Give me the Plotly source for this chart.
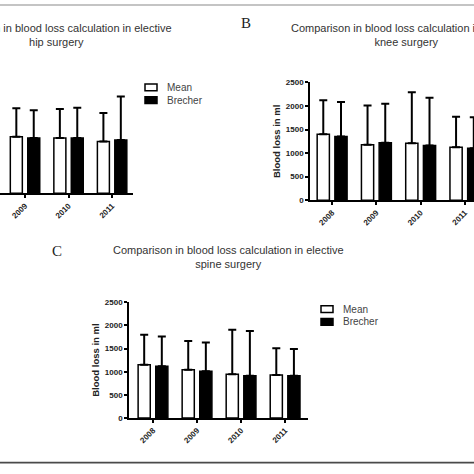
import plotly.graph_objects as go

W = H = 474

# ---------------- data ----------------
series_names = ["Mean", "Brecher"]
y_ticks = [0, 500, 1000, 1500, 2000, 2500]

hip_years = ["2009", "2010", "2011"]
hip_mean = [1200, 1175, 1100]
hip_mean_sd = [605, 615, 605]
hip_brecher = [1175, 1175, 1135]
hip_brecher_sd = [590, 645, 920]

knee_years = ["2008", "2009", "2010", "2011"]
knee_mean = [1400, 1180, 1210, 1125]
knee_mean_sd = [720, 830, 1080, 645]
knee_brecher = [1355, 1220, 1160, 1105]
knee_brecher_sd = [730, 830, 1015, 655]

spine_years = ["2008", "2009", "2010", "2011"]
spine_mean = [1150, 1040, 945, 930]
spine_mean_sd = [645, 625, 960, 575]
spine_brecher = [1120, 1010, 910, 910]
spine_brecher_sd = [640, 620, 970, 580]

titles = [
    "Comparison in blood loss calculation in elective<br>hip surgery",
    "Comparison in blood loss calculation in elective<br>knee surgery",
    "Comparison in blood loss calculation in elective<br>spine surgery",
]
y_title = "Blood loss in ml"


def px(x):
    return x / W


def py(y):
    return 1 - y / H


FONT = "Liberation Sans, Arial, sans-serif"

panels = [
    dict(ax="", cats=hip_years, m=hip_mean, msd=hip_mean_sd, b=hip_brecher, bsd=hip_brecher_sd,
         xdom=(0, 133), ydom=(73, 193), xr=[-0.575, 2.48], showy=False),
    dict(ax="2", cats=knee_years, m=knee_mean, msd=knee_mean_sd, b=knee_brecher, bsd=knee_brecher_sd,
         xdom=(310, 474), ydom=(80, 200), xr=[-0.5, 3.205], showy=True),
    dict(ax="3", cats=spine_years, m=spine_mean, msd=spine_mean_sd, b=spine_brecher, bsd=spine_brecher_sd,
         xdom=(129, 308), ydom=(304, 422), xr=[-0.545, 3.52], showy=True),
]

fig = go.Figure()
layout_axes = {}
for p in panels:
    xa = "x" + p["ax"]
    ya = "y" + p["ax"]
    for name, vals, sds, fill in [(series_names[0], p["m"], p["msd"], "white"),
                                   (series_names[1], p["b"], p["bsd"], "black")]:
        fig.add_trace(go.Bar(
            x=p["cats"], y=vals, name=name, xaxis=xa, yaxis=ya, showlegend=False,
            marker=dict(color=fill, line=dict(color="black", width=1.5)),
            error_y=dict(type="data", symmetric=False, array=sds,
                         arrayminus=[0] * len(sds), color="black", thickness=2, width=4),
        ))
    layout_axes["xaxis" + p["ax"]] = dict(
        domain=[px(p["xdom"][0]), px(p["xdom"][1])], range=p["xr"], anchor=ya,
        type="category", showline=True, linecolor="black", linewidth=1.5,
        ticks="outside", ticklen=3, tickwidth=1.5, tickcolor="black", tickangle=-45,
        tickfont=dict(family=FONT, size=8, color="#222", weight="bold"),
        showgrid=False, zeroline=False, fixedrange=True,
    )
    yd = dict(
        domain=[py(p["ydom"][1]), py(p["ydom"][0])], range=[0, 2500], anchor=xa,
        showgrid=False, zeroline=False, fixedrange=True,
    )
    if p["showy"]:
        yd.update(
            showline=True, linecolor="black", linewidth=1.5, tickvals=y_ticks,
            ticks="outside", ticklen=3, tickwidth=1.5, tickcolor="black",
            tickfont=dict(family=FONT, size=8, color="#222", weight="bold"),
            title=dict(text=y_title, standoff=4,
                       font=dict(family=FONT, size=9.5, color="#222", weight="bold")),
        )
    else:
        yd.update(visible=False)
    layout_axes["yaxis" + p["ax"]] = yd

annotations = []
# panel titles
for t, cx, cy in zip(titles, [56, 406, 228], [31.5, 31.5, 258]):
    annotations.append(dict(text=t, x=px(cx), y=py(cy), xref="paper", yref="paper",
                            xanchor="center", yanchor="middle", showarrow=False,
                            font=dict(family=FONT, size=11, color="#333")))
# panel letters
for letter, lx, ly in [("B", 246, 19), ("C", 57, 252)]:
    annotations.append(dict(text=letter, x=px(lx), y=py(ly), xref="paper", yref="paper",
                            xanchor="center", yanchor="middle", showarrow=False,
                            font=dict(family="Liberation Serif, Times New Roman, serif",
                                      size=15, color="#222")))

shapes = [
    dict(type="rect", xref="paper", yref="paper", x0=0, x1=1, y0=py(2), y1=py(0),
         fillcolor="#c4c4c4", line=dict(width=0)),
    dict(type="rect", xref="paper", yref="paper", x0=0, x1=1, y0=py(468.5), y1=py(466.5),
         fillcolor="#4a4a4a", line=dict(width=0)),
]
# legends (panels A and C)
for lx, ly0 in [(145, 85), (321, 311)]:
    for i, (name, fill) in enumerate(zip(series_names, ["white", "black"])):
        cy = ly0 + 13 * i
        shapes.append(dict(type="rect", xref="paper", yref="paper",
                           x0=px(lx), x1=px(lx + 12), y0=py(cy + 3.5), y1=py(cy - 3.5),
                           fillcolor=fill, line=dict(color="black", width=1.5)))
        annotations.append(dict(text=name, x=px(lx + 20), y=py(cy), xref="paper", yref="paper",
                                xanchor="left", yanchor="middle", showarrow=False,
                                font=dict(family=FONT, size=10, color="#444")))

fig.update_layout(
    width=W, height=H, margin=dict(l=0, r=0, t=0, b=0),
    paper_bgcolor="white", plot_bgcolor="white",
    barmode="group", bargap=0.2, bargroupgap=0.31,
    annotations=annotations, shapes=shapes, showlegend=False,
    **layout_axes,
)

fig.write_html(
    "out.html",
    config={"displayModeBar": False},
    post_script="document.body.style.margin='0';document.body.style.overflow='hidden';",
)
